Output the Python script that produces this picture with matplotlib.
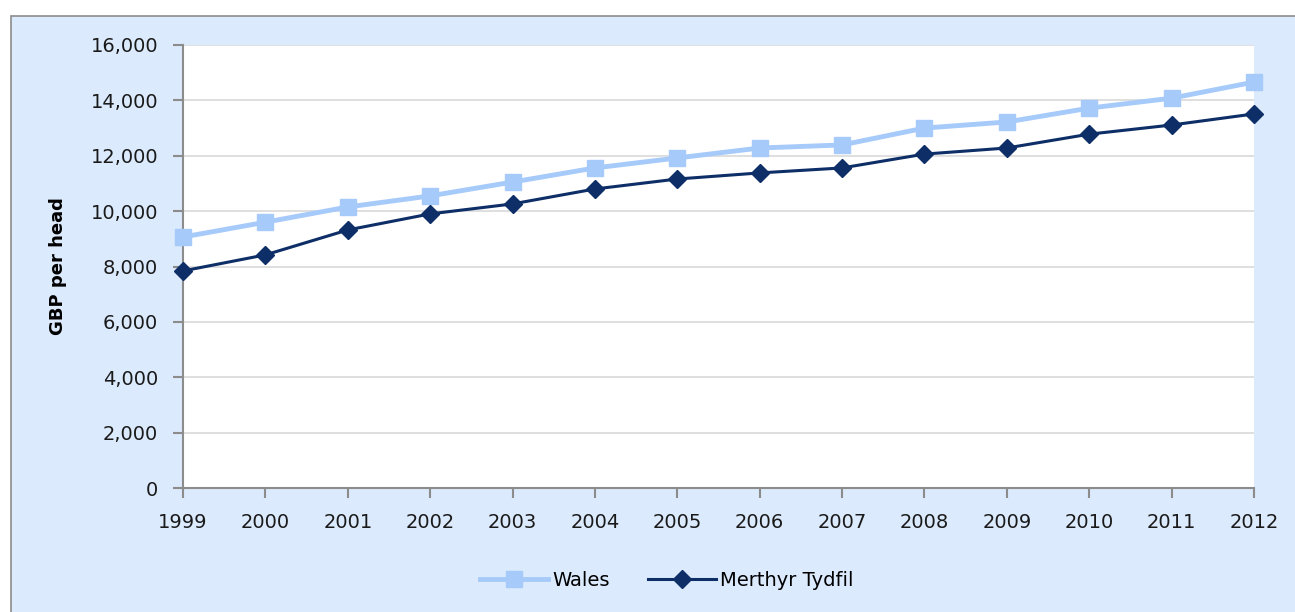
import matplotlib
matplotlib.use("Agg")
import matplotlib.pyplot as plt
from matplotlib.patches import Rectangle
from matplotlib.ticker import FuncFormatter

years = [1999, 2000, 2001, 2002, 2003, 2004, 2005, 2006, 2007, 2008, 2009, 2010, 2011, 2012]
wales = [9065, 9600, 10150, 10550, 11050, 11560, 11920, 12280, 12390, 13000, 13220, 13720, 14080, 14660]
merthyr = [7840, 8420, 9320, 9900, 10260, 10800, 11160, 11380, 11560, 12060, 12280, 12780, 13110, 13510]
yticks = [0, 2000, 4000, 6000, 8000, 10000, 12000, 14000, 16000]

plt.rcParams['font.family'] = ['DejaVu Sans']
W, H = 1295, 612
fig = plt.figure(figsize=(W/100, H/100), dpi=100)
fig.patch.set_facecolor('white')
bg = Rectangle((11/W, -0.01), 1.0, 1 - 16/H + 0.01, transform=fig.transFigure,
               facecolor='#DBEAFC', edgecolor='#8C8C8C', linewidth=1.2, zorder=-10)
fig.patches.append(bg)

ax = fig.add_axes([183/W, 1 - 488/H, (1254-183)/W, (488-45)/H])
ax.set_zorder(1)
ax.set_facecolor('white')
ax.plot(years, wales, color='#A6CAF9', linewidth=3.5, marker='s', markersize=11,
        label='Wales', zorder=3, clip_on=False)
ax.plot(years, merthyr, color='#0D2E66', linewidth=2.2, marker='D', markersize=9,
        label='Merthyr Tydfil', zorder=4, clip_on=False)

ax.set_xlim(1999, 2012)
ax.set_ylim(0, 16000)
ax.set_xticks(years)
ax.set_yticks(yticks)
ax.yaxis.set_major_formatter(FuncFormatter(lambda v, p: f"{int(v):,}"))
ax.grid(axis='y', color='#D9D9D9', linewidth=1.2)
ax.set_axisbelow(True)
for s in ['top', 'right']:
    ax.spines[s].set_visible(False)
for s in ['left', 'bottom']:
    ax.spines[s].set_color('#8C8C8C')
    ax.spines[s].set_linewidth(1.5)
ax.tick_params(axis='both', direction='out', color='#8C8C8C', width=1.5, length=7,
               labelsize=14, labelcolor='#1a1a1a')
ax.tick_params(axis='x', pad=11)
ax.tick_params(axis='y', pad=11)
ax.set_ylabel('GBP per head', fontsize=13, fontweight='bold', labelpad=17)

leg = fig.legend(loc='center', bbox_to_anchor=(0.515, 1 - 580/H), ncol=2, frameon=False,
                 fontsize=14, handlelength=3.5, columnspacing=2.0, handletextpad=0.2)
leg.set_zorder(5)

fig.savefig('out.png', dpi=100, facecolor=fig.get_facecolor())
